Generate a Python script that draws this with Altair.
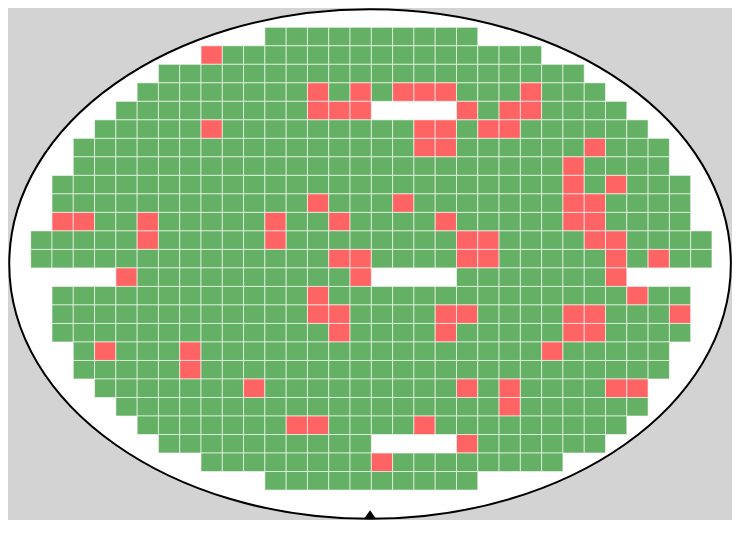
import altair as alt
import pandas as pd

# ---- wafer map data (rows top->bottom, columns left->right) ----
row_first = [11, 8, 6, 5, 4, 3, 2, 2, 1, 1, 1, 0, 0, 4, 1, 1, 1, 2, 2, 3, 4, 5, 6, 8, 11]
row_last = [20, 23, 25, 26, 27, 28, 29, 29, 30, 30, 30, 31, 31, 27, 30, 30, 30, 29, 29, 28, 28, 27, 26, 24, 20]
gap_rows = [4, 13, 22]
gap_cols = [16, 17, 18, 19]
fail_cols = [
    [], [8], [], [13, 15, 17, 18, 19, 23], [13, 14, 15, 20, 22, 23],
    [8, 18, 19, 21, 22], [18, 19, 26], [25], [25, 27], [13, 17, 25, 26],
    [1, 2, 5, 11, 14, 19, 25, 26], [5, 11, 20, 21, 26, 27], [14, 15, 20, 21, 27, 29],
    [4, 15, 27], [13, 28], [13, 14, 19, 20, 25, 26, 30], [14, 19, 25, 26],
    [3, 7, 24], [7], [10, 20, 22, 27, 28], [22], [12, 13, 18], [20], [16], [],
]
statuses = ["pass", "fail"]
status_colors = ["#64b064", "#ff6464"]

# wafer outline (center in die units) and orientation notch
wafer_center_col = [15.94]
wafer_center_row = [12.79]
notch_col = [15.94]
notch_row = [26.30]

records = []
for r, (a, b) in enumerate(zip(row_first, row_last)):
    for c in range(a, b + 1):
        if r in gap_rows and c in gap_cols:
            continue
        records.append({"col": c, "col2": c + 1, "row": r, "row2": r + 1,
                        "status": "fail" if c in fail_cols[r] else "pass"})
dies = pd.DataFrame(records)

W, H = 724, 512
xscale = alt.Scale(domain=[-1.0662, 32.941], nice=False, zero=False)
yscale = alt.Scale(domain=[-1.0427, 26.618], nice=False, zero=False, reverse=True)

wafer = alt.Chart(pd.DataFrame({"col": wafer_center_col, "row": wafer_center_row})).mark_point(
    shape="M-1,0A1,0.7062,0,1,0,1,0A1,0.7062,0,1,0,-1,0Z",
    size=520707, filled=False, fill="white", stroke="black", strokeWidth=2, opacity=1,
).encode(
    x=alt.X("col:Q", scale=xscale, axis=None),
    y=alt.Y("row:Q", scale=yscale, axis=None),
)

cells = alt.Chart(dies).mark_rect(
    stroke="white", strokeWidth=1, strokeOpacity=0.6
).encode(
    x=alt.X("col:Q", scale=xscale, axis=None),
    x2="col2:Q",
    y=alt.Y("row:Q", scale=yscale, axis=None),
    y2="row2:Q",
    color=alt.Color("status:N", scale=alt.Scale(domain=statuses, range=status_colors), legend=None),
)

notch = alt.Chart(pd.DataFrame({"col": notch_col, "row": notch_row})).mark_point(
    shape="M0,-0.7L1,0.7L-1,0.7Z", size=121, filled=True, color="black", opacity=1,
).encode(
    x=alt.X("col:Q", scale=xscale, axis=None),
    y=alt.Y("row:Q", scale=yscale, axis=None),
)

chart = alt.layer(wafer, cells, notch).properties(
    width=W, height=H, padding=0, autosize="none", background="#d3d3d3"
).configure_view(stroke=None)

chart.save("out.html", embed_options={"renderer": "svg", "actions": False})
